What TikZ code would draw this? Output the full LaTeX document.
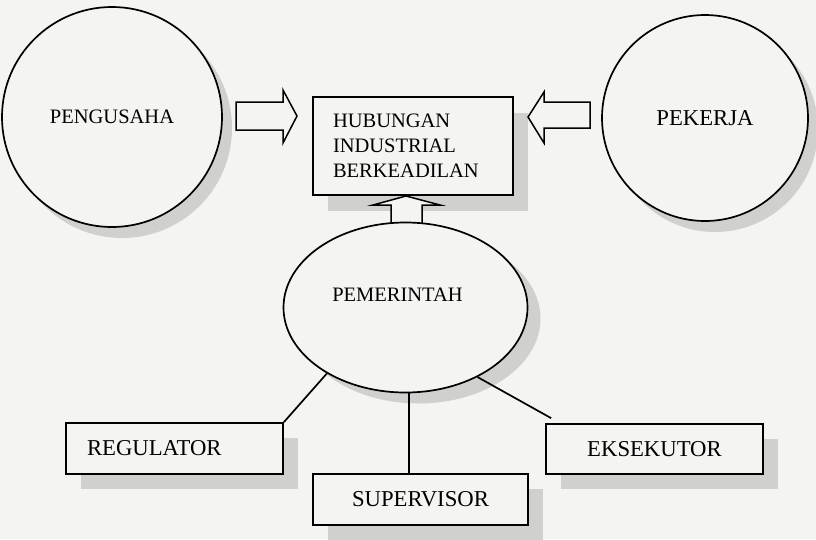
\documentclass[tikz,border=0pt]{standalone}
\usepackage{fontspec}
\setmainfont{Liberation Serif}
\usetikzlibrary{shapes.geometric, shadows}
\definecolor{scanbg}{RGB}{244,244,242}
\definecolor{shadowgray}{RGB}{208,208,206}

\begin{document}
\fontsize{20.5}{25}\selectfont
\begin{tikzpicture}[
            x=1pt, y=-1pt,
            line width=1.7pt,
            party/.style = {draw, circle, fill=scanbg, inner sep=0,
              drop shadow={shadow xshift=10pt, shadow yshift=-11pt, fill=shadowgray, opacity=1}},
            mainbox/.style = {draw, rectangle, fill=scanbg,
              drop shadow={shadow xshift=15pt, shadow yshift=-16pt, fill=shadowgray, opacity=1}},
            govt/.style = {draw, ellipse, fill=scanbg, inner sep=0,
              drop shadow={shadow xshift=13pt, shadow yshift=-11pt, fill=shadowgray, opacity=1}},
            rolebox/.style = {draw, rectangle, fill=scanbg, minimum width=217, minimum height=51,
              font=\fontsize{22.7}{27}\selectfont,
              drop shadow={shadow xshift=15pt, shadow yshift=-15pt, fill=shadowgray, opacity=1}},
            blockarrow/.style = {draw, fill=scanbg, line width=1.5pt, line join=miter}
          ]
          \fill[scanbg] (0,0) rectangle (816,539);
          \useasboundingbox (0,0) rectangle (816,539);

          \node[party, minimum size=220] (peng) at (112,117) {PENGUSAHA};
          \node[party, minimum size=206, font=\fontsize{22.7}{27}\selectfont] (pek) at (705,118) {PEKERJA};
          \node[mainbox, minimum width=200, minimum height=98, text width=160, inner xsep=20, align=left] (hub) at (413,146) {HUBUNGAN\\INDUSTRIAL\\BERKEADILAN};

          \draw[blockarrow] (236,102) -- (283,102) -- (283,90) -- (297,116) -- (283,143) -- (283,130) -- (236,130) -- cycle;
          \draw[blockarrow] (590,102) -- (544,102) -- (544,92) -- (528,117) -- (544,143) -- (544,128) -- (590,128) -- cycle;
          \draw[blockarrow] (391,228) -- (391,205) -- (373,205) -- (406,196) -- (440,205) -- (422,205) -- (422,228) -- cycle;

          \node[govt, minimum width=244, minimum height=170,
            label={[name=pemtext, xshift=-8pt, yshift=12.5pt]center:PEMERINTAH}] (pem) at (405.5,307.5) {};

          \node[rolebox, text width=175, inner xsep=21, align=left] (reg) at (174.5,448.5) {REGULATOR};
          \node[rolebox, minimum width=215] (sup) at (420.5,499.5) {SUPERVISOR};
          \node[rolebox, minimum height=50] (eks) at (654.5,449) {EKSEKUTOR};

          \draw (pem.220) -- (reg.north east);
          \draw ([xshift=3.5pt]pem.south) -- ([xshift=3.5pt]pem.south |- sup.north);
          \draw (pem.316) -- ([xshift=6pt, yshift=5pt]eks.north west);
        \end{tikzpicture}
\end{document}
